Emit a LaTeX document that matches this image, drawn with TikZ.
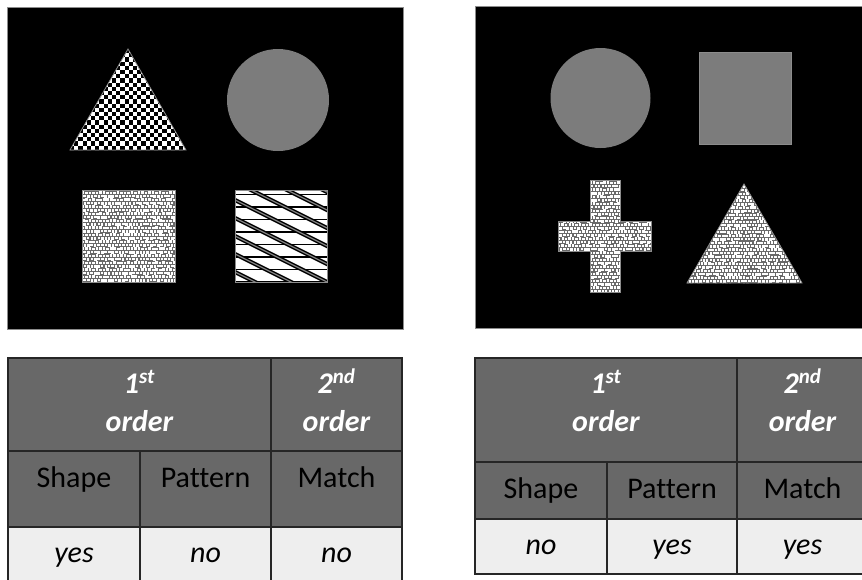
\documentclass[tikz,border=0pt]{standalone}
\usepackage{fontspec}
\setmainfont{Carlito}[Ligatures=NoCommon]
\definecolor{hdrgray}{RGB}{104,104,104}
\definecolor{cellgray}{RGB}{238,238,238}
\definecolor{discgray}{RGB}{124,124,124}
\definecolor{pebbg}{RGB}{105,105,105}
\definecolor{edgegray}{RGB}{140,140,140}
\newcommand\pebbles[4]{%
  \fill[pebbg] (#1,#2) rectangle +(#3*3.5+4,#4*3.5+4);
  \foreach \i in {0,...,#3}{\foreach \j in {0,...,#4}{%
    \pgfmathsetmacro\pbx{#1+\i*3.5+0.25*rand+mod(\j,2)*1.75}%
    \pgfmathsetmacro\pby{#2+\j*3.5+0.25*rand}%
    \fill[white] (\pbx,\pby) rectangle +(2.6,2.5);
  }}}
\tikzset{
  panel/.style={fill=black, draw=edgegray, line width=0.6pt},
  outline/.style={draw=edgegray, line width=0.8pt},
  grid/.style={draw=black!85, line width=1.2pt},
  hdrtxt/.style={text=white, font=\fontsize{30}{36}\selectfont\bfseries\itshape, anchor=base, inner sep=0pt},
  coltxt/.style={text=black, font=\fontsize{30}{36}\selectfont, anchor=base, inner sep=0pt},
  valtxt/.style={text=black, font=\fontsize{30}{36}\selectfont\itshape, anchor=base, inner sep=0pt}
}
\begin{document}
\begin{tikzpicture}[x=1pt,y=-1pt]
\clip (0,0) rectangle (862,579);
\fill[white] (0,0) rectangle (862,579);
\pgfmathsetseed{7}
% ---------- left panel ----------
\path[panel] (7,7) rectangle (403,329);
% checkerboard triangle
\begin{scope}
  \clip (70,150) -- (186,150) -- (128,49) -- cycle;
  \fill[black] (70,49) rectangle (186,150);
  \foreach \i in {0,...,27}{\foreach \j in {0,...,24}{%
    \pgfmathtruncatemacro\k{mod(\i+\j,2)}%
    \ifnum\k=0 \fill[white] (70+\i*4.2,49+\j*4.2) rectangle +(4.2,4.2);\fi
  }}
\end{scope}
\path[outline] (70,150) -- (186,150) -- (128,49) -- cycle;
% grey disc
\fill[discgray] (278,100) circle (51);
% pebble square
\begin{scope}
  \clip (82,190) rectangle (175,282);
  \pebbles{80}{188}{27}{27}
\end{scope}
\path[outline] (82,190) rectangle (175,282);
% striped square
\begin{scope}
  \clip (235,190) rectangle (327,282);
  \fill[white] (235,190) rectangle (327,282);
  \foreach \y in {194.5,207,...,282}{\draw[black, line width=1.6pt] (235,\y) -- (327,\y);}
  \foreach \y in {110,128,...,290}{\draw[black, line width=1.4pt, double=gray, double distance=1.3pt] (230,\y-2.5) -- (332,\y+48.5);}
\end{scope}
\path[outline] (235,190) rectangle (327,282);
% ---------- right panel ----------
\path[panel] (475,6) rectangle (866,328);
\fill[discgray] (600.5,98) circle (50);
\fill[discgray] (699,52) rectangle (791,144);
\path[outline] (699,52) rectangle (791,144);
% pebble cross
\begin{scope}
  \clip (590,180) -- (620,180) -- (620,221) -- (651,221) -- (651,251) -- (620,251) -- (620,292) -- (590,292) -- (590,251) -- (558,251) -- (558,221) -- (590,221) -- cycle;
  \pebbles{556}{178}{27}{32}
\end{scope}
\path[outline] (590,180) -- (620,180) -- (620,221) -- (651,221) -- (651,251) -- (620,251) -- (620,292) -- (590,292) -- (590,251) -- (558,251) -- (558,221) -- (590,221) -- cycle;
% pebble triangle
\begin{scope}
  \clip (687,283) -- (802,283) -- (744,184) -- cycle;
  \pebbles{685}{182}{33}{29}
\end{scope}
\path[outline] (687,283) -- (802,283) -- (744,184) -- cycle;
% ---------- left table ----------
\fill[hdrgray] (8,358) rectangle (402,527);
\fill[cellgray] (8,527) rectangle (402,590);
\draw[grid] (8,358) rectangle (402,590);
\draw[grid] (8,451) -- (402,451);
\draw[grid] (8,527) -- (402,527);
\draw[grid] (271,358) -- (271,590);
\draw[grid] (140,451) -- (140,590);
\node[hdrtxt] (la1) at (139.5,393) {1\textsuperscript{st}};
\node[hdrtxt] (la2) at (139.5,431) {order};
\node[hdrtxt] (lb1) at (336.5,393) {2\textsuperscript{nd}};
\node[hdrtxt] (lb2) at (336.5,431) {order};
\node[coltxt] (lc1) at (74,487) {Shape};
\node[coltxt] (lc2) at (205.5,487) {Pattern};
\node[coltxt] (lc3) at (336.5,487) {Match};
\node[valtxt] (ld1) at (74,562) {yes};
\node[valtxt] (ld2) at (205.5,562) {no};
\node[valtxt] (ld3) at (336.5,562) {no};
% ---------- right table ----------
\fill[hdrgray] (475,358) rectangle (868,519);
\fill[cellgray] (475,519) rectangle (868,574);
\draw[grid] (475,358) rectangle (868,574);
\draw[grid] (475,462) -- (868,462);
\draw[grid] (475,519) -- (868,519);
\draw[grid] (737,358) -- (737,574);
\draw[grid] (607,462) -- (607,574);
\node[hdrtxt] (ra1) at (606,393) {1\textsuperscript{st}};
\node[hdrtxt] (ra2) at (606,431) {order};
\node[hdrtxt] (rb1) at (802.5,393) {2\textsuperscript{nd}};
\node[hdrtxt] (rb2) at (802.5,431) {order};
\node[coltxt] (rc1) at (541,498) {Shape};
\node[coltxt] (rc2) at (672,498) {Pattern};
\node[coltxt] (rc3) at (802.5,498) {Match};
\node[valtxt] (rd1) at (541,554) {no};
\node[valtxt] (rd2) at (672,554) {yes};
\node[valtxt] (rd3) at (802.5,554) {yes};
\end{tikzpicture}
\end{document}
